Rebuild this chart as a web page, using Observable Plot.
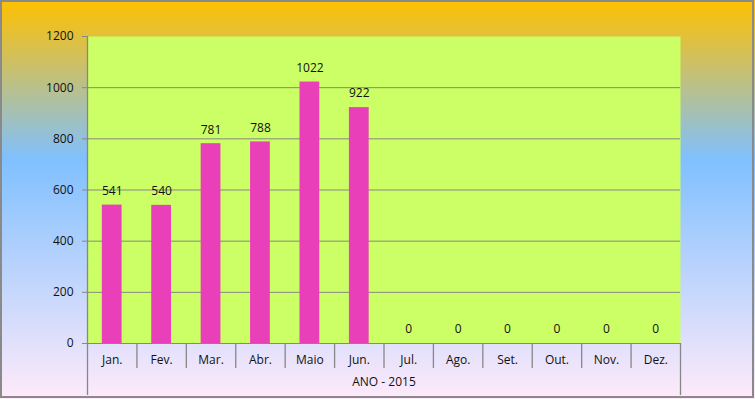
<!DOCTYPE html>
<html>
<head>
<meta charset="utf-8">
<script src="https://cdn.jsdelivr.net/npm/d3@7"></script>
<script src="https://cdn.jsdelivr.net/npm/@observablehq/plot@0.6"></script>
<style>
  html, body { margin: 0; padding: 0; }
  #wrap {
    position: relative; width: 755px; height: 399px; overflow: hidden;
    background: linear-gradient(to bottom, #ffc000 0%, #80c0ff 40%, #ffeafa 100%);
  }
  #border {
    position: absolute; left: 0; top: 0; width: 754px; height: 398px;
    box-sizing: border-box; border: 2px solid #8a8a8a; pointer-events: none;
  }
  #wrap svg { position: absolute; left: 0; top: 0; background: transparent; }
</style>
</head>
<body>
<div id="wrap"><div id="border"></div></div>
<script>
const months = ["Jan.", "Fev.", "Mar.", "Abr.", "Maio", "Jun.", "Jul.", "Ago.", "Set.", "Out.", "Nov.", "Dez."];
const values = [541, 540, 781, 788, 1022, 922, 0, 0, 0, 0, 0, 0];
const yTicks = [0, 200, 400, 600, 800, 1000, 1200];
const gridTicks = [200, 400, 600, 800, 1000];
const groupLabel = "ANO - 2015";

const data = months.map((m, i) => ({month: m, value: values[i]}));

const W = 755, H = 399;
const mL = 87, mR = 75, mT = 36, mB = 56;
const plotW = W - mL - mR, plotH = H - mT - mB;
const step = plotW / months.length;
const ppu = plotH / 1200;
const gray = "#878787";
const font = "'Open Sans', 'Liberation Sans', sans-serif";

const chart = Plot.plot({
  width: W, height: H,
  marginLeft: mL, marginRight: mR, marginTop: mT, marginBottom: mB,
  style: {background: "transparent", fontFamily: font, fontSize: "12px", color: "#111"},
  x: {domain: months, paddingInner: 0.6, paddingOuter: 0.3, round: false, axis: null},
  y: {domain: [0, 1200], axis: null},
  marks: [
    Plot.frame({fill: "#ccff66", stroke: null}),
    Plot.ruleY(gridTicks, {stroke: gray, strokeWidth: 1}),
    Plot.barY(data, {x: "month", y: "value", fill: "#e940b9"}),
    Plot.ruleY([0], {stroke: gray, strokeWidth: 1}),
    Plot.axisY({ticks: yTicks, tickFormat: d => String(d), tickSize: 5, tickPadding: 9, stroke: gray, fill: "#111", fontSize: 12, label: null}),
    // left axis line extending under the categories
    Plot.ruleX([months[0]], {x: d => d, dx: -step / 2, y1: 1200, y2: -52 / ppu, stroke: gray, strokeWidth: 1.3}),
    // right edge line below the plot
    Plot.ruleX([months[months.length - 1]], {x: d => d, dx: step / 2, y1: 0, y2: -52 / ppu, stroke: gray, strokeWidth: 1.3}),
    // category separators
    Plot.ruleX(months.slice(1), {x: d => d, dx: -step / 2, y1: 0, y2: -25 / ppu, stroke: gray, strokeWidth: 1.3}),
    // month labels
    Plot.text(months, {x: d => d, y: 0, dy: 17, fill: "#111", fontSize: 12}),
    // value labels
    Plot.text(data, {x: "month", y: "value", text: d => String(d.value), dy: -14, fill: "#111", fontSize: 12}),
    // group label
    Plot.text([groupLabel], {frameAnchor: "bottom", dy: 42, fill: "#111", fontSize: 12})
  ]
});
document.getElementById("wrap").insertBefore(chart, document.getElementById("border"));
</script>
</body>
</html>
